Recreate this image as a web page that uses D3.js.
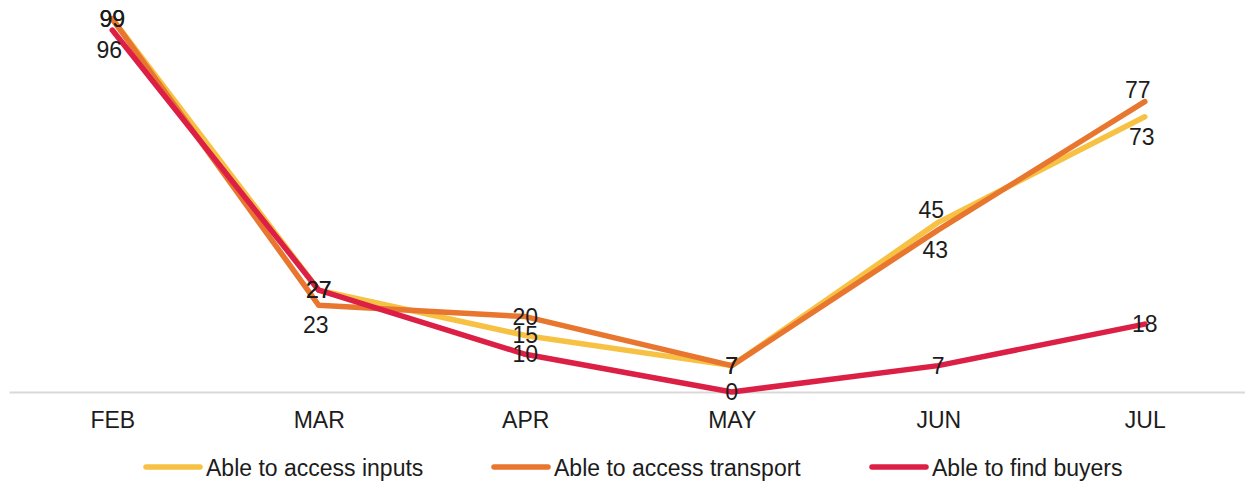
<!DOCTYPE html>
<html>
<head>
<meta charset="utf-8">
<script src="https://cdn.jsdelivr.net/npm/d3@7"></script>
<style>
  html, body { margin: 0; padding: 0; background: #fff; }
  svg { display: block; }
  text { font-family: "Liberation Sans", Arial, sans-serif; fill: #1c1c1c; }
</style>
</head>
<body>
<svg id="chart" width="1245" height="483"></svg>
<script>
// ---- data ----
const months = ["FEB", "MAR", "APR", "MAY", "JUN", "JUL"];
const seriesNames = ["Able to access inputs", "Able to access transport", "Able to find buyers"];
const inputsValues = [99, 27, 15, 7, 45, 73];
const transportValues = [99, 23, 20, 7, 43, 77];
const buyersValues = [96, 27, 10, 0, 7, 18];

// label placement per series (presentation only)
const inputsPlacement = ["center", "center", "center", "center", "above", "below"];
const transportPlacement = ["center", "below", "center", "center", "below", "above"];
const buyersPlacement = ["below", "center", "center", "center", "center", "center"];

const colors = ["#F7C244", "#E8762F", "#DC1F45"];

const series = [
  { name: seriesNames[0], values: inputsValues, place: inputsPlacement, color: colors[0] },
  { name: seriesNames[1], values: transportValues, place: transportPlacement, color: colors[1] },
  { name: seriesNames[2], values: buyersValues, place: buyersPlacement, color: colors[2] }
];

const FONT = 23;
const svg = d3.select("#chart");
const x = d3.scalePoint().domain(months).range([9, 1248]).padding(0.5);
const y = d3.scaleLinear().domain([0, 100]).range([392, 15]);

// x axis
const axis = svg.append("g")
  .attr("transform", "translate(0,392)")
  .call(d3.axisBottom(x).tickSize(0).tickPadding(20));
axis.select(".domain").attr("stroke", "#d9d9d9").attr("stroke-width", 2);
axis.selectAll(".tick text")
  .attr("font-family", "Liberation Sans, Arial, sans-serif")
  .attr("font-size", FONT)
  .attr("fill", "#1c1c1c");

// lines
const line = d3.line()
  .x((d, i) => x(months[i]))
  .y(d => y(d));

svg.append("g").selectAll("path")
  .data(series)
  .join("path")
  .attr("d", s => line(s.values))
  .attr("fill", "none")
  .attr("stroke", s => s.color)
  .attr("stroke-width", 5.5)
  .attr("stroke-linejoin", "round")
  .attr("stroke-linecap", "round");

// labels
const offsets = { center: [0, 0], above: [-7, -12], below: [-3, 20] };
const labelData = [];
series.forEach(s => s.values.forEach((v, i) => labelData.push({ v, i, p: s.place[i] })));
svg.append("g").selectAll("text")
  .data(labelData)
  .join("text")
  .attr("x", d => x(months[d.i]) + offsets[d.p][0])
  .attr("y", d => y(d.v) + offsets[d.p][1])
  .attr("text-anchor", "middle")
  .attr("dominant-baseline", "central")
  .attr("font-size", FONT)
  .text(d => d.v);

// legend
const legendX = [146, 494, 872];
const lg = svg.append("g").selectAll("g")
  .data(series)
  .join("g")
  .attr("transform", (s, i) => `translate(${legendX[i]},467)`);
lg.append("line")
  .attr("x1", 0).attr("x2", 54).attr("y1", 0).attr("y2", 0)
  .attr("stroke", s => s.color)
  .attr("stroke-width", 5.5)
  .attr("stroke-linecap", "round");
lg.append("text")
  .attr("x", 60)
  .attr("y", 1)
  .attr("dominant-baseline", "central")
  .attr("font-size", FONT)
  .text(s => s.name);
</script>
</body>
</html>
